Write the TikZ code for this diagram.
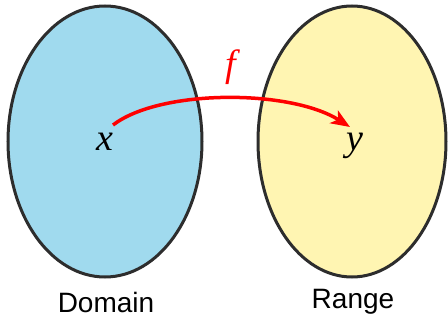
\documentclass[tikz,border=0pt]{standalone}
\usepackage{fontspec}
\setsansfont{Liberation Sans}
\newfontfamily\elemfont{Liberation Serif}
\usetikzlibrary{shapes.geometric,arrows.meta}
\definecolor{domainblue}{RGB}{160,218,238}
\definecolor{rangeyellow}{RGB}{255,245,178}
\definecolor{rimgray}{RGB}{45,45,45}
\tikzset{
  setoval/.style={ellipse, draw=rimgray, line width=3pt, inner sep=0pt,
    minimum width=194pt, minimum height=271pt},
  setlabel/.style={font=\sffamily\fontsize{28}{32}\selectfont},
  elem/.style={font=\elemfont\itshape\fontsize{38}{42}\selectfont, inner sep=0pt},
  maparrow/.style={red, line width=3.5pt,
    -{Stealth[length=19pt, width=15pt, inset=5pt]}}
}
\begin{document}
\begin{tikzpicture}[x=1pt, y=-1pt]
  \useasboundingbox (0,0) rectangle (448,324);
  % the two sets
  \node[setoval, fill=domainblue] (dom) at (105,141.5) {};
  \node[setoval, fill=rangeyellow, minimum width=188pt] (ran) at (352,141.5) {};
  % elements
  \node[elem, anchor=base] (x) at (105,150) {x};
  \node[elem, anchor=base] (y) at (355,150) {y};
  % set names
  \node[setlabel] (dname) at (106,302) {Domain};
  \node[setlabel] (rname) at (353,302) {Range};
  % the map f
  \coordinate (fstart) at (113,125);
  \coordinate (fend) at (350,127);
  \draw[maparrow] (fstart) .. controls (160,89) and (290,89) .. (fend);
  \node[elem, red, anchor=base] (flab) at (231,76) {f};
\end{tikzpicture}
\end{document}
